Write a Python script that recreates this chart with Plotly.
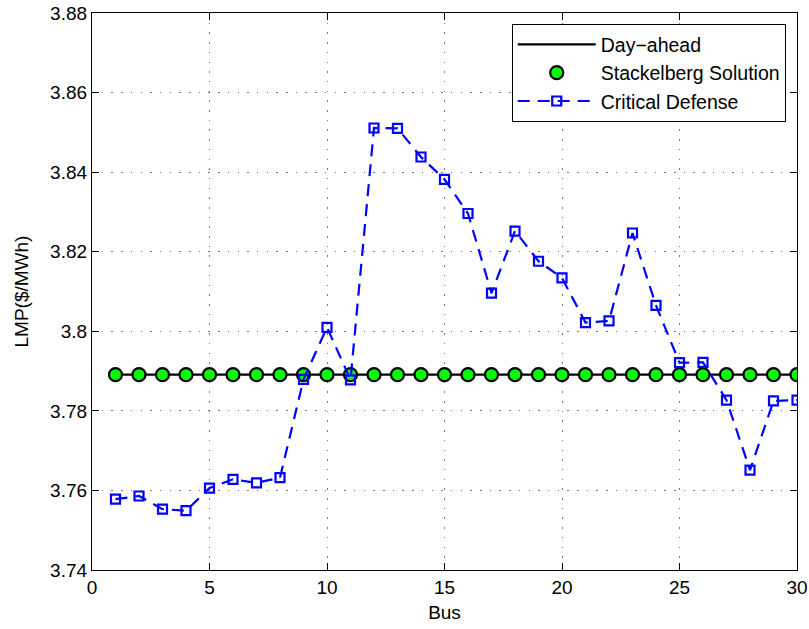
import plotly.graph_objects as go

# Bus numbers and locational marginal prices ($/MWh)
buses = list(range(1, 31))
day_ahead = [3.7891] * 30
stackelberg = [3.7891] * 30
critical_defense = [
    3.7578, 3.7586, 3.7553, 3.7549, 3.7606, 3.7628, 3.7619, 3.7632, 3.7879, 3.8010,
    3.7878, 3.8511, 3.8510, 3.8438, 3.8382, 3.8296, 3.8096, 3.8252, 3.8176, 3.8134,
    3.8022, 3.8026, 3.8247, 3.8065, 3.7921, 3.7922, 3.7827, 3.7651, 3.7825, 3.7827,
]

x_ticks = [0, 5, 10, 15, 20, 25, 30]
y_ticks = [3.74, 3.76, 3.78, 3.80, 3.82, 3.84, 3.86, 3.88]
y_tick_text = ["3.74", "3.76", "3.78", "3.8", "3.82", "3.84", "3.86", "3.88"]

FONT = "Liberation Sans, Arial, Helvetica, sans-serif"

fig = go.Figure()
fig.add_trace(go.Scatter(
    x=buses, y=day_ahead, mode="lines", name="Day\u2212ahead",
    line=dict(color="black", width=2.2),
))
fig.add_trace(go.Scatter(
    x=buses, y=stackelberg, mode="markers", name="Stackelberg Solution",
    marker=dict(symbol="circle", size=13, color="#00ff00",
                line=dict(color="black", width=2.2)),
))
fig.add_trace(go.Scatter(
    x=buses, y=critical_defense, mode="lines+markers", name="Critical Defense",
    line=dict(color="#0000ff", width=2.2, dash="12px,8px"),
    marker=dict(symbol="square-open", size=9, color="#0000ff",
                line=dict(color="#0000ff", width=2.2)),
))

axis_common = dict(
    showline=True, linecolor="black", linewidth=1.2, mirror="ticks",
    ticks="inside", ticklen=7, tickcolor="black", tickwidth=1,
    showgrid=True, gridcolor="#777777", griddash="1.5px,8.2px", gridwidth=1,
    zeroline=False, automargin=False,
    tickfont=dict(family=FONT, size=19, color="black"),
)

fig.update_layout(
    width=809, height=629,
    margin=dict(l=92, r=12, t=13, b=59, autoexpand=False),
    paper_bgcolor="white", plot_bgcolor="white",
    font=dict(family=FONT, size=19, color="black"),
    xaxis=dict(range=[0, 30], tickvals=x_ticks,
               title=dict(text="Bus", font=dict(family=FONT, size=19), standoff=8),
               **axis_common),
    yaxis=dict(range=[3.74, 3.88], tickvals=y_ticks, ticktext=y_tick_text,
               title=dict(text="LMP($/MWh)", font=dict(family=FONT, size=19), standoff=16),
               **axis_common),
    legend=dict(x=0.984, y=0.98, xanchor="right", yanchor="top",
                bgcolor="white", bordercolor="black", borderwidth=1,
                font=dict(family=FONT, size=19.5), itemwidth=78,
                tracegroupgap=0),
    showlegend=True,
)

fig.write_html("out.html")
